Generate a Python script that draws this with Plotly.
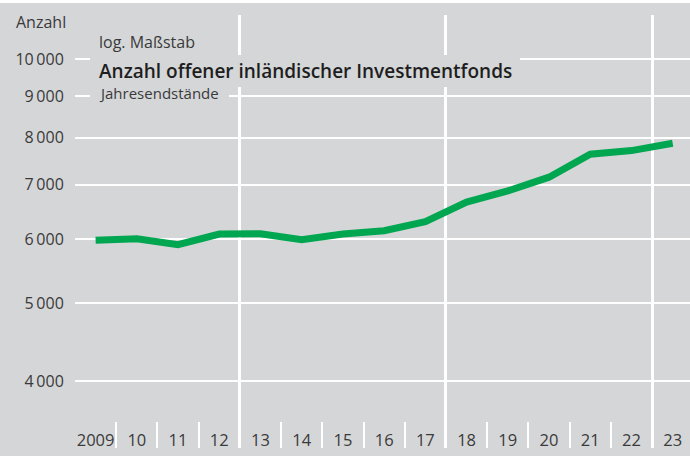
import plotly.graph_objects as go

years = ["2009", "10", "11", "12", "13", "14", "15", "16", "17", "18", "19", "20", "21", "22", "23"]
funds = [5976, 6003, 5902, 6084, 6090, 5986, 6084, 6141, 6300, 6663, 6878, 7152, 7635, 7714, 7878]
y_ticks = [4000, 5000, 6000, 7000, 8000, 9000, 10000]
y_ticktext = ["4\u2009000", "5\u2009000", "6\u2009000", "7\u2009000", "8\u2009000", "9\u2009000", "10\u2009000"]

BG = "#d5d6d8"
GREEN = "#00a650"
TXT = "#3a3a3a"
FONT = "Open Sans"

idx = list(range(len(years)))
boundaries = [i + 0.5 for i in range(len(years) - 1)]
major_bounds = [3.5, 8.5, 13.5]

fig = go.Figure()
fig.add_trace(go.Scatter(x=idx, y=funds, mode="lines",
                         line=dict(color=GREEN, width=7), hoverinfo="skip",
                         showlegend=False))
fig.add_trace(go.Scatter(x=idx, y=funds, mode="lines", xaxis="x2",
                         line=dict(color="rgba(0,0,0,0)", width=0), hoverinfo="skip",
                         showlegend=False))

xr = [-0.5, 14.42]
fig.update_layout(
    width=690, height=456,
    margin=dict(l=75, r=0, t=15, b=8),
    paper_bgcolor=BG, plot_bgcolor=BG,
    font=dict(family=FONT, color=TXT, size=16),
    xaxis=dict(range=xr, tickmode="array", tickvals=idx, ticktext=years,
               showgrid=False, zeroline=False, showline=False,
               ticks="", ticklabelposition="inside", ticklabelstandoff=-4,
               tickfont=dict(size=16.5, color=TXT),
               minor=dict(tickmode="array", tickvals=boundaries, ticks="inside",
                          ticklen=26, tickwidth=2, tickcolor="white", showgrid=False)),
    xaxis2=dict(range=xr, overlaying="x", tickmode="array", tickvals=major_bounds,
                showgrid=True, gridcolor="white", gridwidth=2.5,
                showticklabels=False, ticks="", zeroline=False, showline=False),
    yaxis=dict(type="log", range=[3.5197, 4.0549], tickmode="array",
               tickvals=y_ticks, ticktext=y_ticktext,
               showgrid=True, gridcolor="white", gridwidth=2.2,
               zeroline=False, showline=False,
               ticks="outside", ticklen=7, tickcolor="rgba(0,0,0,0)",
               tickfont=dict(size=16, color=TXT)),
)

# boxes behind the in-chart text (hide grid lines there)
fig.add_shape(type="rect", xref="paper", yref="paper", x0=0.0244, x1=0.7236,
              y0=0.8337, y1=0.9076, fillcolor=BG, line=dict(width=0), layer="above")
fig.add_shape(type="rect", xref="paper", yref="paper", x0=0.0244, x1=0.2504,
              y0=0.8014, y1=0.8340, fillcolor=BG, line=dict(width=0), layer="above")
# thin white strip on top edge
fig.add_shape(type="rect", xref="paper", yref="paper", x0=-0.2, x1=1.1,
              y0=1 + 12 / 433, y1=1 + 20 / 433, fillcolor="white",
              line=dict(width=0), layer="above")

fig.add_annotation(xref="paper", yref="paper", x=-0.0992, y=0.984, text="Anzahl",
                   showarrow=False, xanchor="left", yanchor="middle",
                   font=dict(size=16, color=TXT, family=FONT))
fig.add_annotation(xref="paper", yref="paper", x=0.0358, y=0.937, text="log. Maßstab",
                   showarrow=False, xanchor="left", yanchor="middle",
                   font=dict(size=16, color=TXT, family=FONT))
fig.add_annotation(xref="paper", yref="paper", x=0.0358, y=0.870,
                   text="Anzahl offener inländischer Investmentfonds",
                   showarrow=False, xanchor="left", yanchor="middle",
                   font=dict(size=19, color="#1e1e1e", family=FONT, weight=600))
fig.add_annotation(xref="paper", yref="paper", x=0.0358, y=0.820, text="Jahresendstände",
                   showarrow=False, xanchor="left", yanchor="middle",
                   font=dict(size=15, color=TXT, family=FONT))

fig.write_html("out.html", config={"displayModeBar": False},
               post_script="document.body.style.margin='0';")
